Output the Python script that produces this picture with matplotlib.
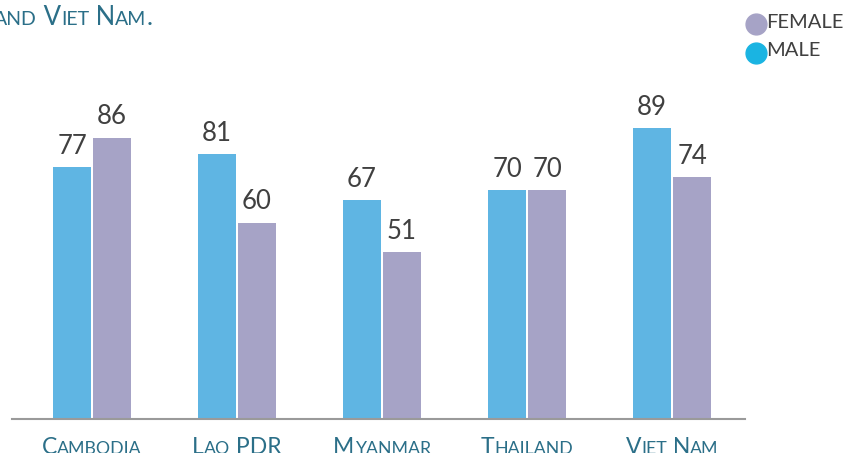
import numpy as np
import matplotlib.pyplot as plt
from matplotlib.lines import Line2D
from matplotlib.offsetbox import TextArea, HPacker, AnnotationBbox

countries = ['Cambodia', 'Lao PDR', 'Myanmar', 'Thailand', 'Viet Nam']
male = [77, 81, 67, 70, 89]
female = [86, 60, 51, 70, 74]

MALE_C = '#5fb5e3'
FEMALE_C = '#a6a3c6'
TEAL = '#2b6f88'
DARK = '#404040'
FONT = 'Lato'


def small_caps(txt, big, small, color):
    # fake small caps: capitals at big size, lowercase as upper at small size
    parts = []
    run = ''
    run_up = None
    for ch in txt:
        up = not ch.islower()
        if run_up is None or up == run_up:
            run += ch
        else:
            parts.append((run, run_up))
            run = ch
        run_up = up
    parts.append((run, run_up))
    boxes = []
    for s, up in parts:
        boxes.append(TextArea(s.upper(), textprops=dict(
            fontsize=big if up else small, color=color, family=FONT)))
    return HPacker(children=boxes, align='baseline', pad=0, sep=0)


fig = plt.figure(figsize=(8.45, 4.53), dpi=100)
ax = fig.add_axes([12 / 845, 34 / 453, 733 / 845, 327 / 453])

x = np.arange(len(countries))
w = 0.262
off = 0.138
b1 = ax.bar(x - off, male, w, color=MALE_C)
b2 = ax.bar(x + off, female, w, color=FEMALE_C)
ax.bar_label(b1, padding=6, fontsize=18.5, color=DARK, family=FONT)
ax.bar_label(b2, padding=6, fontsize=18.5, color=DARK, family=FONT)

ax.set_xlim(-0.552, 4.503)
ax.set_ylim(0, 100)
for s in ['top', 'right', 'left']:
    ax.spines[s].set_visible(False)
ax.spines['bottom'].set_color('#9a9a9a')
ax.spines['bottom'].set_linewidth(1.5)
ax.set_yticks([])
ax.set_xticks([])

# x labels in small caps
for i, c in enumerate(countries):
    box = small_caps(c, 16.5, 12.8, TEAL)
    ab = AnnotationBbox(box, (i, 0), xycoords=ax.get_xaxis_transform(),
                        xybox=(0, -13), boxcoords='offset points',
                        box_alignment=(0.5, 1), frameon=False,
                        annotation_clip=False)
    ax.add_artist(ab)

# title, cut at the left edge
tbox = small_caps('and Viet Nam.', 18.5, 14, TEAL)
tab = AnnotationBbox(tbox, (-0.007, 1 - 5 / 453), xycoords='figure fraction',
                     box_alignment=(0, 1), frameon=False, annotation_clip=False)
fig.add_artist(tab)

# legend
for yy, col, lab in [(24, FEMALE_C, 'FEMALE'), (53, '#1ab4e2', 'MALE')]:
    fig.add_artist(Line2D([756 / 845], [1 - yy / 453], marker='o', markersize=15,
                          color=col, transform=fig.transFigure, linestyle='none'))
    fig.text(766 / 845, 1 - (yy - 2) / 453, lab, fontsize=14.5, color=DARK,
             family=FONT, va='center', ha='left')

fig.savefig('out.png', dpi=100)
